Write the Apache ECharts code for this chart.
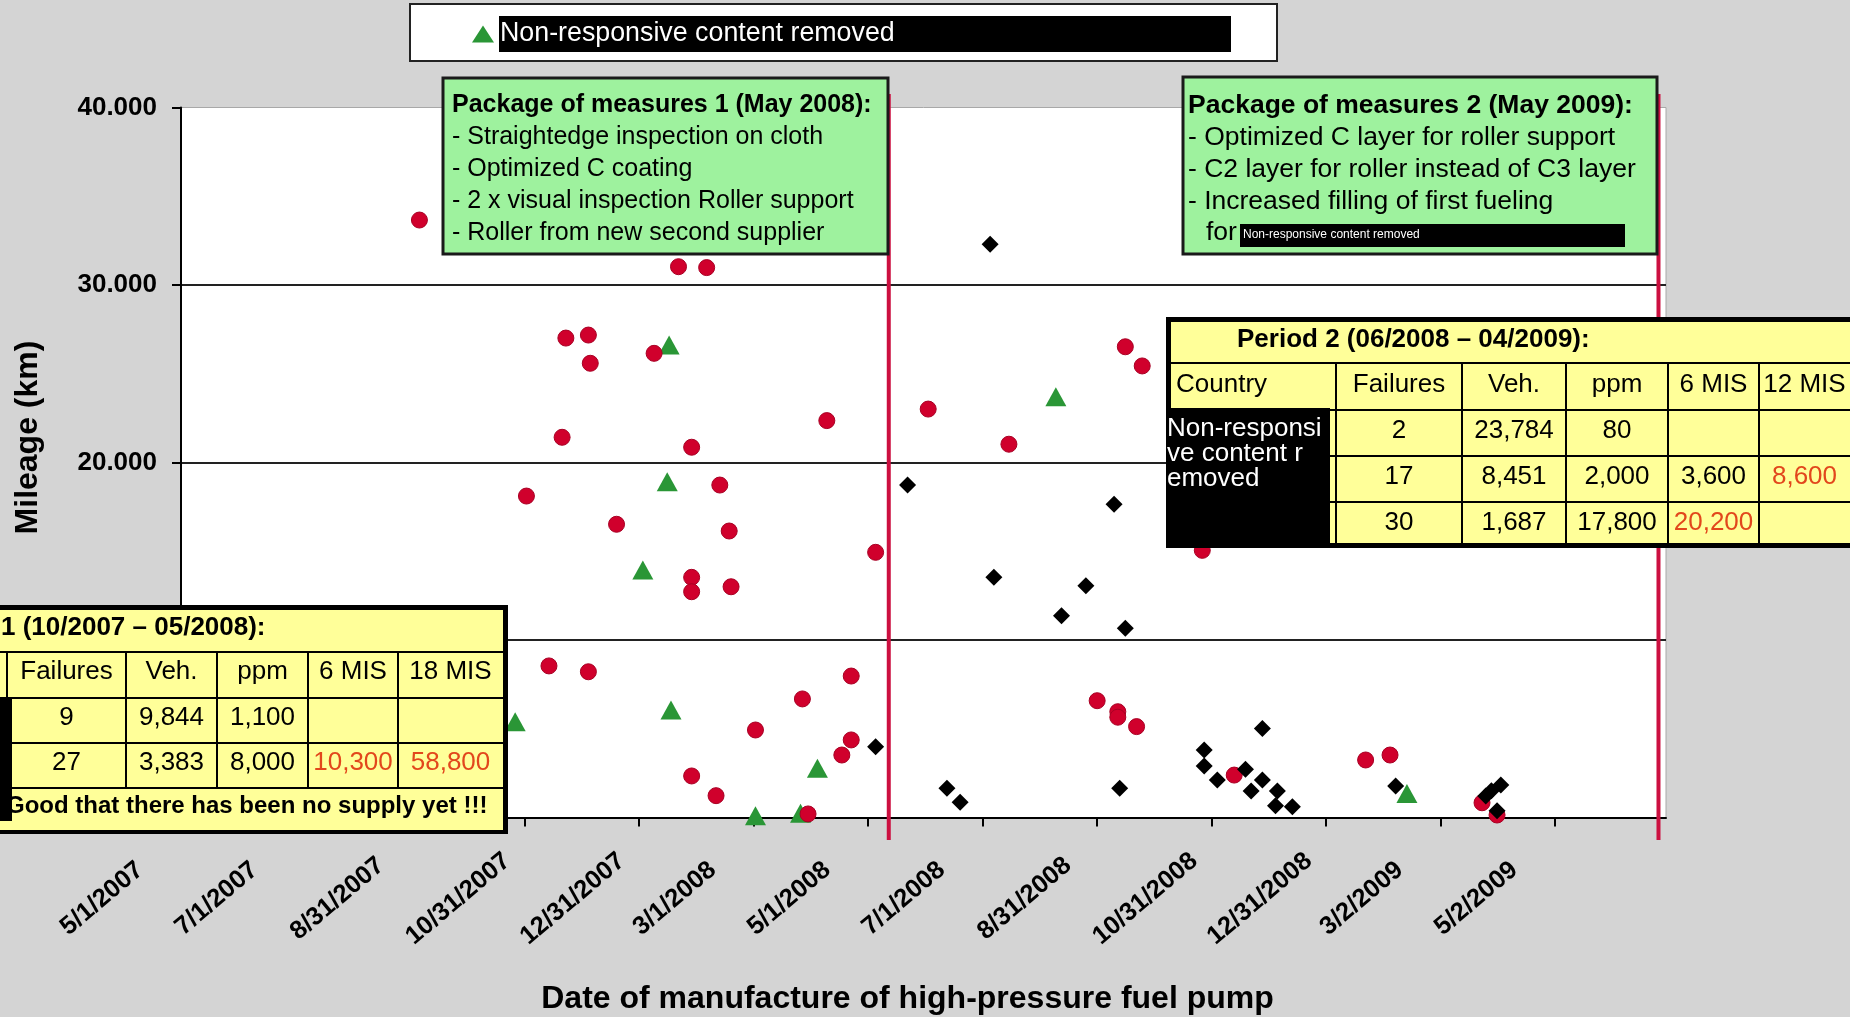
<!DOCTYPE html>
<html><head><meta charset="utf-8">
<script src="https://cdn.jsdelivr.net/npm/echarts@6/dist/echarts.min.js"></script>
<style>html,body{margin:0;padding:0;background:#d4d4d4;}#c{width:1850px;height:1017px;}</style>
</head><body><div id="c"></div>
<script>
const FONT = '"Liberation Sans", Arial, sans-serif';

// ---------------- data ----------------
const axisStart = '2007-05-01';
const axisEnd = '2009-06-30';
const tickStepDays = 61;
const xTickLabels = ['5/1/2007','7/1/2007','8/31/2007','10/31/2007','12/31/2007','3/1/2008','5/1/2008','7/1/2008','8/31/2008','10/31/2008','12/31/2008','3/2/2009','5/2/2009'];
const yTickLabels = ['0','10.000','20.000','30.000','40.000'];

const legendName = 'Non-responsive content removed';

const circleDates = ['2007-09-05','2008-01-21','2008-02-05','2007-11-22','2007-12-04','2007-12-05','2008-01-08','2008-04-09','2007-11-20','2008-01-28','2008-02-12','2007-11-01','2007-12-19','2008-02-17','2008-05-05','2008-01-28','2008-01-28','2008-02-18','2007-11-13','2007-12-04','2008-03-02','2008-03-27','2008-04-22','2008-04-22','2008-04-17','2008-01-28','2008-02-10','2008-03-30','2008-09-15','2008-09-24','2008-06-02','2008-07-15','2008-10-26','2008-08-31','2008-09-11','2008-09-11','2008-09-21','2008-11-12','2009-01-21','2009-02-03','2009-03-24','2009-04-01'];
const circleKm = [33660,31030,30980,27010,27180,25590,26150,22360,21420,20860,18730,18110,16520,16140,14940,13530,12720,13000,8540,8210,4930,6680,7970,4370,3520,2340,1230,200,26520,25440,23010,21030,15050,6580,5960,5650,5120,2390,3240,3520,830,140];

const triangleDates = ['2008-01-16','2008-01-15','2008-01-02','2007-10-26','2008-01-17','2008-04-04','2008-03-02','2008-03-26','2008-08-09','2009-02-12'];
const triangleKm = [26620,18920,13940,5400,6060,2770,100,240,23710,1350];

const diamondDates = ['2008-05-05','2008-07-05','2008-05-22','2008-09-09','2008-07-07','2008-08-25','2008-08-12','2008-09-15','2008-06-12','2008-06-19','2008-09-12','2008-10-27','2008-10-27','2008-11-03','2008-11-18','2008-11-27','2008-11-27','2008-11-21','2008-12-05','2008-12-04','2008-12-13','2009-02-06','2009-03-26','2009-03-29','2009-04-03','2009-04-01'];
const diamondKm = [3990,32290,18730,17650,13530,13060,11360,10660,1650,860,1650,3800,2900,2110,2720,5020,2110,1490,1490,660,610,1770,1210,1510,1830,380];

const measureDates = ['2008-05-12','2009-06-26'];
const measureLineKm = [-1270, 40760];

const box1Title = 'Package of measures 1 (May 2008):';
const box1Lines = ['- Straightedge inspection on cloth','- Optimized C coating','- 2 x visual inspection Roller support','- Roller from new second supplier'];
const box2Title = 'Package of measures 2 (May 2009):';
const box2Lines = ['- Optimized C layer for roller support','- C2 layer for roller instead of C3 layer','- Increased filling of first fueling'];
const box2LastLead = 'for';
const redacted = 'Non-responsive content removed';

const t1Title = '1 (10/2007 \u2013 05/2008):';
const t1Header = ['Failures','Veh.','ppm','6 MIS','18 MIS'];
const t1Rows = [['9','9,844','1,100','',''],['27','3,383','8,000','10,300','58,800']];
const t1Alert = [[false,false,false,false,false],[false,false,false,true,true]];
const t1Footer = 'Good that there has been no supply yet !!!';

const t2Title = 'Period 2 (06/2008 \u2013 04/2009):';
const t2Header = ['Country','Failures','Veh.','ppm','6 MIS','12 MIS'];
const t2Rows = [['2','23,784','80','',''],['17','8,451','2,000','3,600','8,600'],['30','1,687','17,800','20,200','']];
const t2Alert = [[false,false,false,false,false],[false,false,false,false,true],[false,false,false,true,false]];
const t2Redacted = ['Non-responsi','ve content r','emoved'];

// ---------------- helpers ----------------
const DAY = 86400000;
function dayOf(s){ const p = s.split('-').map(Number); return (Date.UTC(p[0],p[1]-1,p[2]) - Date.UTC(2007,4,1)) / DAY; }
function pairs(dates, vals){ return dates.map((d,i)=>[dayOf(d), vals[i]]); }

const RED = '#d0002c', GREEN = '#2a9636', ALERT = '#e2471c';
const YELLOW = '#ffff99', BOXGREEN = '#9ef29e';

function txt(x,y,text,opt){
  opt = opt||{};
  return {type:'text', z:110, style:{x:x, y:y, text:text, fill: opt.fill||'#000',
    font: (opt.bold?'bold ':'') + (opt.size||26) + 'px ' + FONT,
    textAlign: opt.align||'left', textVerticalAlign:'middle', verticalAlign:'middle'}};
}
function rect(x,y,w,h,fill,opt){
  opt = opt||{};
  return {type:'rect', z: opt.z||100, shape:{x:x,y:y,width:w,height:h},
    style:{fill:fill, stroke: opt.stroke||null, lineWidth: opt.lw||0}};
}
function hline(x1,x2,y,w){ return {type:'line', z:105, shape:{x1:x1,y1:y,x2:x2,y2:y}, style:{stroke:'#000', lineWidth:w||2}}; }
function vline(x,y1,y2,w){ return {type:'line', z:105, shape:{x1:x,y1:y1,x2:x,y2:y2}, style:{stroke:'#000', lineWidth:w||2}}; }

const g = [];
// green box 1
g.push(rect(443,78,445,176,BOXGREEN,{stroke:'#1a1a1a',lw:3}));
g.push(txt(452,105,box1Title,{bold:true,size:25}));
box1Lines.forEach((l,i)=>g.push(txt(452,137+i*32,l,{size:25})));
// green box 2
g.push(rect(1183,77,474,177,BOXGREEN,{stroke:'#1a1a1a',lw:3}));
g.push(txt(1188,106,box2Title,{bold:true,size:26.5}));
box2Lines.forEach((l,i)=>g.push(txt(1188,138+i*32,l,{size:26.5})));
g.push(txt(1206,233,box2LastLead,{size:26.5}));
g.push(rect(1240,224,385,23,'#000',{z:106}));
g.push(txt(1243,235,redacted,{size:12,fill:'#fff'}));

// table 1
g.push(rect(-20,605,528,229,'#000'));
g.push(rect(-20,610,523,220,YELLOW,{z:101}));
[652,698,743,788].forEach(y=>g.push(hline(-20,503,y)));
const t1Cols = [7,126,217,308,398,503];
t1Cols.slice(0,5).forEach(x=>g.push(vline(x,652,788)));
g.push(txt(1,628,t1Title,{bold:true,size:26}));
t1Header.forEach((h,i)=>g.push(txt((t1Cols[i]+t1Cols[i+1])/2,672,h,{align:'center'})));
t1Rows.forEach((r,ri)=>r.forEach((c,ci)=>{ if(c) g.push(txt((t1Cols[ci]+t1Cols[ci+1])/2,718+ri*45,c,{align:'center',fill:t1Alert[ri][ci]?ALERT:'#000'})); }));
g.push(txt(6,806,t1Footer,{bold:true,size:24}));
g.push(rect(0,699,12,122,'#000',{z:112}));

// table 2
g.push(rect(1166,317,700,231,'#000'));
g.push(rect(1171,322,700,221,YELLOW,{z:101}));
[363,410,456,502].forEach(y=>g.push(hline(1171,1850,y)));
const t2Cols = [1171,1336,1462,1566,1668,1759,1850];
t2Cols.slice(1,6).forEach(x=>g.push(vline(x,363,543)));
g.push(txt(1237,340,t2Title,{bold:true,size:26}));
t2Header.forEach((h,i)=>g.push(i===0?txt(1176,385,h):txt((t2Cols[i]+t2Cols[i+1])/2,385,h,{align:'center'})));
t2Rows.forEach((r,ri)=>r.forEach((c,ci)=>{ if(c) g.push(txt((t2Cols[ci+1]+t2Cols[ci+2])/2,431+ri*46,c,{align:'center',fill:t2Alert[ri][ci]?ALERT:'#000'})); }));
g.push(rect(1166,408,164,135,'#000',{z:112}));
t2Redacted.forEach((l,i)=>{ const t = txt(1167,429+i*25,l,{fill:'#fff'}); t.z = 113; g.push(t); });

// rotated x labels: placement style depends on label length (8..10 chars)
const xLabelRich = {};
[8,9,10].forEach(n=>{
  const k = n - 8;
  const pr = 211 - 9.5*k;         // shift along the text
  const v = 3 + 4.15*k;           // shift across the text
  xLabelRich['s'+n] = {padding:[v>0?2*v:0, pr, v<0?-2*v:0, 0], fontSize:25.5, fontWeight:'bold', fontFamily:FONT, color:'#000'};
});

// ---------------- chart ----------------
const chart = echarts.init(document.getElementById('c'), null, {renderer:'canvas'});
const measureSeries = measureDates.map(d=>({
  type:'line', silent:true, clip:false, symbol:'none', z:1,
  data: measureLineKm.map(v=>[dayOf(d), v]),
  lineStyle:{color:'#cc1040', width:4}
}));

chart.setOption({
  animation:false,
  backgroundColor:'#d4d4d4',
  grid:{left:181, top:107.5, width:1485, height:710, outerBoundsMode:'none', containLabel:false,
    show:true, backgroundColor:'#fff', borderColor:'#a8a8a8', borderWidth:1},
  legend:{
    data:[legendName], left:410, top:4, padding:[12,46,9,62],
    backgroundColor:'#fff', borderColor:'#222', borderWidth:2,
    itemWidth:22, itemHeight:17, selectedMode:false,
    formatter: n=>'{b|'+n+'}',
    textStyle:{rich:{b:{backgroundColor:'#000', color:'#fff', width:731, height:36, lineHeight:36, fontSize:26.8, fontFamily:FONT, padding:[0,0,0,1]}}}
  },
  xAxis:{
    type:'value', min:dayOf(axisStart), max:dayOf(axisEnd), interval:tickStepDays,
    name:'Date of manufacture of high-pressure fuel pump', nameLocation:'middle', nameGap:166,
    nameTextStyle:{fontSize:32, fontWeight:'bold', fontFamily:FONT, color:'#000', padding:[0,32,0,0]},
    axisLine:{lineStyle:{color:'#000', width:2}},
    axisTick:{show:true, length:9, lineStyle:{color:'#000', width:2}},
    splitLine:{show:false},
    axisLabel:{
      rotate:40, margin:11, showMaxLabel:false, align:'center', verticalAlign:'middle',
      formatter: v=>{ const i = Math.round(v/tickStepDays); if (Math.abs(v-i*tickStepDays)>0.01 || i>=xTickLabels.length) return ''; const s = xTickLabels[i]; return '{s'+Math.min(10,Math.max(8,s.length))+'|'+s+'}'; },
      rich: xLabelRich
    }
  },
  yAxis:{
    type:'value', min:0, max:40000, interval:10000,
    name:'Mileage (km)', nameLocation:'middle', nameGap:137, nameRotate:90,
    nameTextStyle:{fontSize:32, fontWeight:'bold', fontFamily:FONT, color:'#000', padding:[0,0,0,50]},
    axisLine:{show:true, lineStyle:{color:'#000', width:2}},
    axisTick:{show:true, length:9, lineStyle:{color:'#000', width:2}},
    splitLine:{show:true, showMinLine:false, showMaxLine:false, lineStyle:{color:'#222', width:2}},
    axisLabel:{margin:24, fontSize:26, fontWeight:'bold', fontFamily:FONT, color:'#000',
      formatter: v=>yTickLabels[Math.round(v/10000)]}
  },
  series:[
    {name:legendName, type:'scatter', symbol:'triangle', symbolSize:[21,19], z:3,
      itemStyle:{color:GREEN, opacity:1}, data:pairs(triangleDates, triangleKm)},
    {name:'circles', type:'scatter', symbol:'circle', symbolSize:16, z:4,
      itemStyle:{color:RED, borderColor:'#a80024', borderWidth:1, opacity:1}, data:pairs(circleDates, circleKm)},
    {name:'diamonds', type:'scatter', symbol:'diamond', symbolSize:17, z:5,
      itemStyle:{color:'#000', opacity:1}, data:pairs(diamondDates, diamondKm)}
  ].concat(measureSeries),
  graphic:{elements:g}
});
</script>
</body></html>
